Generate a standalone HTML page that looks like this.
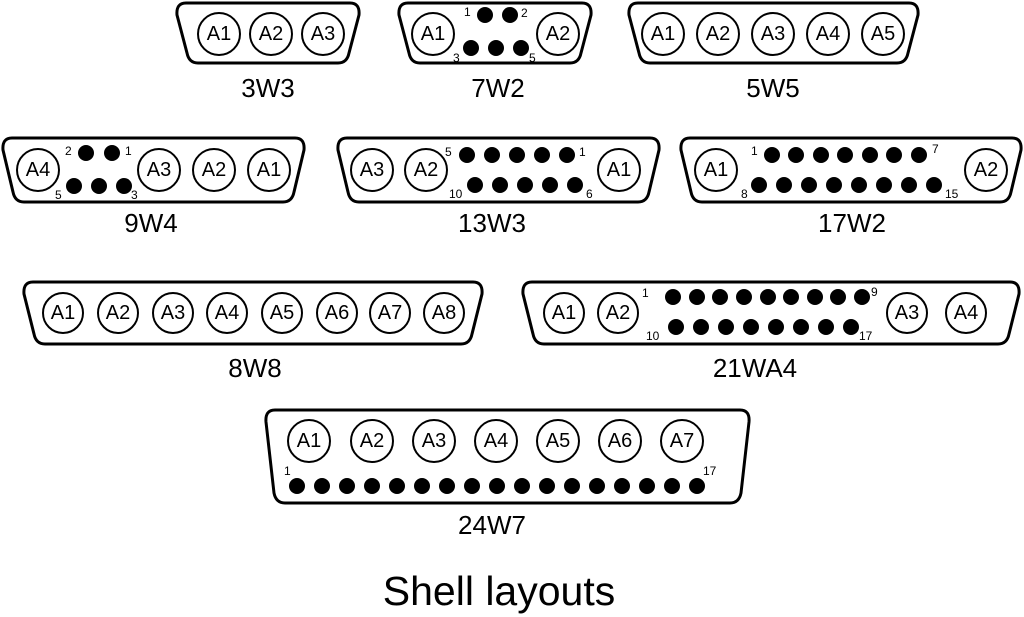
<!DOCTYPE html>
<html><head><meta charset="utf-8"><style>
body{margin:0;background:#fff;}
svg{display:block;font-family:"Liberation Sans",Arial,sans-serif;}
.s{fill:none;stroke:#000;stroke-width:3;stroke-linejoin:round}
.c{fill:#fff;stroke:#000;stroke-width:2}
.ct{font-size:20px;text-anchor:middle;dominant-baseline:central}
.n{font-size:12px}
.lb{font-size:26px;text-anchor:middle}
</style></head><body>
<svg width="1024" height="617" viewBox="0 0 1024 617">
<path class="s" d="M186,3 H350 Q360,3 359,15 L349,53 Q347,63 338,63 H198 Q189,63 187,53 L177,15 Q176,3 186,3 Z"/>
<path class="s" d="M408,3 H582 Q592,3 591,15 L581,53 Q579,63 570,63 H420 Q411,63 409,53 L399,15 Q398,3 408,3 Z"/>
<path class="s" d="M638,3 H909 Q919,3 918,15 L908,53 Q906,63 897,63 H650 Q641,63 639,53 L629,15 Q628,3 638,3 Z"/>
<path class="s" d="M12,138 H295 Q305,138 304,150 L294,192 Q292,202 283,202 H24 Q15,202 13,192 L3,150 Q2,138 12,138 Z"/>
<path class="s" d="M347,138 H650 Q660,138 659,150 L649,192 Q647,202 638,202 H359 Q350,202 348,192 L338,150 Q337,138 347,138 Z"/>
<path class="s" d="M690,138 H1012 Q1022,138 1021,150 L1011,192 Q1009,202 1000,202 H702 Q693,202 691,192 L681,150 Q680,138 690,138 Z"/>
<path class="s" d="M33,282 H473 Q483,282 482,294 L472,334 Q470,344 461,344 H45 Q36,344 34,334 L24,294 Q23,282 33,282 Z"/>
<path class="s" d="M532,282 H1010 Q1020,282 1019,294 L1009,334 Q1007,344 998,344 H544 Q535,344 533,334 L523,294 Q522,282 532,282 Z"/>
<path class="s" d="M275,410 H740 Q750,410 749,422 L741,493 Q739,503 730,503 H285 Q276,503 274,493 L266,422 Q265,410 275,410 Z"/>

<g class="c"><circle cx="219" cy="34" r="21"/><circle cx="271" cy="34" r="21"/><circle cx="323" cy="34" r="21"/></g>
<g class="ct"><text x="219" y="34">A1</text><text x="271" y="34">A2</text><text x="323" y="34">A3</text></g>
<g class="c"><circle cx="433" cy="34" r="21"/><circle cx="558" cy="34" r="21"/></g>
<g class="ct"><text x="433" y="34">A1</text><text x="558" y="34">A2</text></g>
<g><circle cx="485" cy="15" r="8"/><circle cx="510" cy="15" r="8"/><circle cx="471" cy="48" r="8"/><circle cx="496" cy="48" r="8"/><circle cx="521" cy="48" r="8"/></g>
<g class="n"><text x="464" y="16">1</text><text x="521" y="17">2</text><text x="453" y="62">3</text><text x="529" y="62">5</text></g>
<g class="c"><circle cx="663" cy="34" r="21"/><circle cx="718" cy="34" r="21"/><circle cx="773" cy="34" r="21"/><circle cx="828" cy="34" r="21"/><circle cx="883" cy="34" r="21"/></g>
<g class="ct"><text x="663" y="34">A1</text><text x="718" y="34">A2</text><text x="773" y="34">A3</text><text x="828" y="34">A4</text><text x="883" y="34">A5</text></g>

<g class="c"><circle cx="38" cy="170" r="21"/><circle cx="159" cy="170" r="21"/><circle cx="214" cy="170" r="21"/><circle cx="269" cy="170" r="21"/></g>
<g class="ct"><text x="38" y="170">A4</text><text x="159" y="170">A3</text><text x="214" y="170">A2</text><text x="269" y="170">A1</text></g>
<g><circle cx="86" cy="153" r="8"/><circle cx="112" cy="153" r="8"/><circle cx="74" cy="186" r="8"/><circle cx="99" cy="186" r="8"/><circle cx="124" cy="186" r="8"/></g>
<g class="n"><text x="65" y="155">2</text><text x="125" y="155">1</text><text x="55" y="199">5</text><text x="131" y="199">3</text></g>
<g class="c"><circle cx="372" cy="170" r="21"/><circle cx="426" cy="170" r="21"/><circle cx="619" cy="170" r="21"/></g>
<g class="ct"><text x="372" y="170">A3</text><text x="426" y="170">A2</text><text x="619" y="170">A1</text></g>
<g><circle cx="467" cy="155" r="8"/><circle cx="492" cy="155" r="8"/><circle cx="517" cy="155" r="8"/><circle cx="542" cy="155" r="8"/><circle cx="567" cy="155" r="8"/>
<circle cx="475" cy="185" r="8"/><circle cx="500" cy="185" r="8"/><circle cx="525" cy="185" r="8"/><circle cx="550" cy="185" r="8"/><circle cx="575" cy="185" r="8"/></g>
<g class="n"><text x="445" y="156">5</text><text x="579" y="156">1</text><text x="449" y="198">10</text><text x="586" y="198">6</text></g>
<g class="c"><circle cx="716" cy="170" r="21"/><circle cx="986" cy="170" r="21"/></g>
<g class="ct"><text x="716" y="170">A1</text><text x="986" y="170">A2</text></g>
<g><circle cx="772" cy="155" r="8"/><circle cx="796" cy="155" r="8"/><circle cx="821" cy="155" r="8"/><circle cx="845" cy="155" r="8"/><circle cx="870" cy="155" r="8"/><circle cx="894" cy="155" r="8"/><circle cx="919" cy="155" r="8"/>
<circle cx="759" cy="185" r="8"/><circle cx="784" cy="185" r="8"/><circle cx="809" cy="185" r="8"/><circle cx="834" cy="185" r="8"/><circle cx="859" cy="185" r="8"/><circle cx="884" cy="185" r="8"/><circle cx="909" cy="185" r="8"/><circle cx="934" cy="185" r="8"/></g>
<g class="n"><text x="751" y="155">1</text><text x="932" y="153">7</text><text x="741" y="198">8</text><text x="945" y="198">15</text></g>

<g class="c"><circle cx="63" cy="313" r="20"/><circle cx="118" cy="313" r="20"/><circle cx="173" cy="313" r="20"/><circle cx="227" cy="313" r="20"/><circle cx="282" cy="313" r="20"/><circle cx="337" cy="313" r="20"/><circle cx="390" cy="313" r="20"/><circle cx="444" cy="313" r="20"/></g>
<g class="ct"><text x="63" y="313">A1</text><text x="118" y="313">A2</text><text x="173" y="313">A3</text><text x="227" y="313">A4</text><text x="282" y="313">A5</text><text x="337" y="313">A6</text><text x="390" y="313">A7</text><text x="444" y="313">A8</text></g>
<g class="c"><circle cx="564" cy="313" r="20"/><circle cx="618" cy="313" r="20"/><circle cx="907" cy="313" r="20"/><circle cx="966" cy="313" r="20"/></g>
<g class="ct"><text x="564" y="313">A1</text><text x="618" y="313">A2</text><text x="907" y="313">A3</text><text x="966" y="313">A4</text></g>
<g><circle cx="673" cy="297" r="8"/><circle cx="697" cy="297" r="8"/><circle cx="720" cy="297" r="8"/><circle cx="744" cy="297" r="8"/><circle cx="768" cy="297" r="8"/><circle cx="791" cy="297" r="8"/><circle cx="815" cy="297" r="8"/><circle cx="838" cy="297" r="8"/><circle cx="862" cy="297" r="8"/>
<circle cx="676" cy="327" r="8"/><circle cx="701" cy="327" r="8"/><circle cx="726" cy="327" r="8"/><circle cx="751" cy="327" r="8"/><circle cx="776" cy="327" r="8"/><circle cx="801" cy="327" r="8"/><circle cx="826" cy="327" r="8"/><circle cx="851" cy="327" r="8"/></g>
<g class="n"><text x="642" y="297">1</text><text x="871" y="296">9</text><text x="646" y="340">10</text><text x="859" y="340">17</text></g>

<g class="c"><circle cx="309" cy="441" r="21"/><circle cx="372" cy="441" r="21"/><circle cx="434" cy="441" r="21"/><circle cx="496" cy="441" r="21"/><circle cx="558" cy="441" r="21"/><circle cx="620" cy="441" r="21"/><circle cx="682" cy="441" r="21"/></g>
<g class="ct"><text x="309" y="441">A1</text><text x="372" y="441">A2</text><text x="434" y="441">A3</text><text x="496" y="441">A4</text><text x="558" y="441">A5</text><text x="620" y="441">A6</text><text x="682" y="441">A7</text></g>
<g><circle cx="297" cy="486" r="8"/><circle cx="322" cy="486" r="8"/><circle cx="347" cy="486" r="8"/><circle cx="372" cy="486" r="8"/><circle cx="397" cy="486" r="8"/><circle cx="422" cy="486" r="8"/><circle cx="447" cy="486" r="8"/><circle cx="472" cy="486" r="8"/><circle cx="497" cy="486" r="8"/><circle cx="522" cy="486" r="8"/><circle cx="547" cy="486" r="8"/><circle cx="572" cy="486" r="8"/><circle cx="597" cy="486" r="8"/><circle cx="622" cy="486" r="8"/><circle cx="647" cy="486" r="8"/><circle cx="672" cy="486" r="8"/><circle cx="697" cy="486" r="8"/></g>
<g class="n"><text x="284" y="475">1</text><text x="703" y="475">17</text></g>

<g class="lb"><text x="268" y="97">3W3</text><text x="498" y="97">7W2</text><text x="773" y="97">5W5</text>
<text x="151" y="232">9W4</text><text x="492" y="232">13W3</text><text x="852" y="232">17W2</text>
<text x="255" y="377">8W8</text><text x="755" y="377">21WA4</text>
<text x="492" y="534">24W7</text></g>
<text x="499" y="605" style="font-size:41px;text-anchor:middle">Shell layouts</text>
</svg>
</body></html>
